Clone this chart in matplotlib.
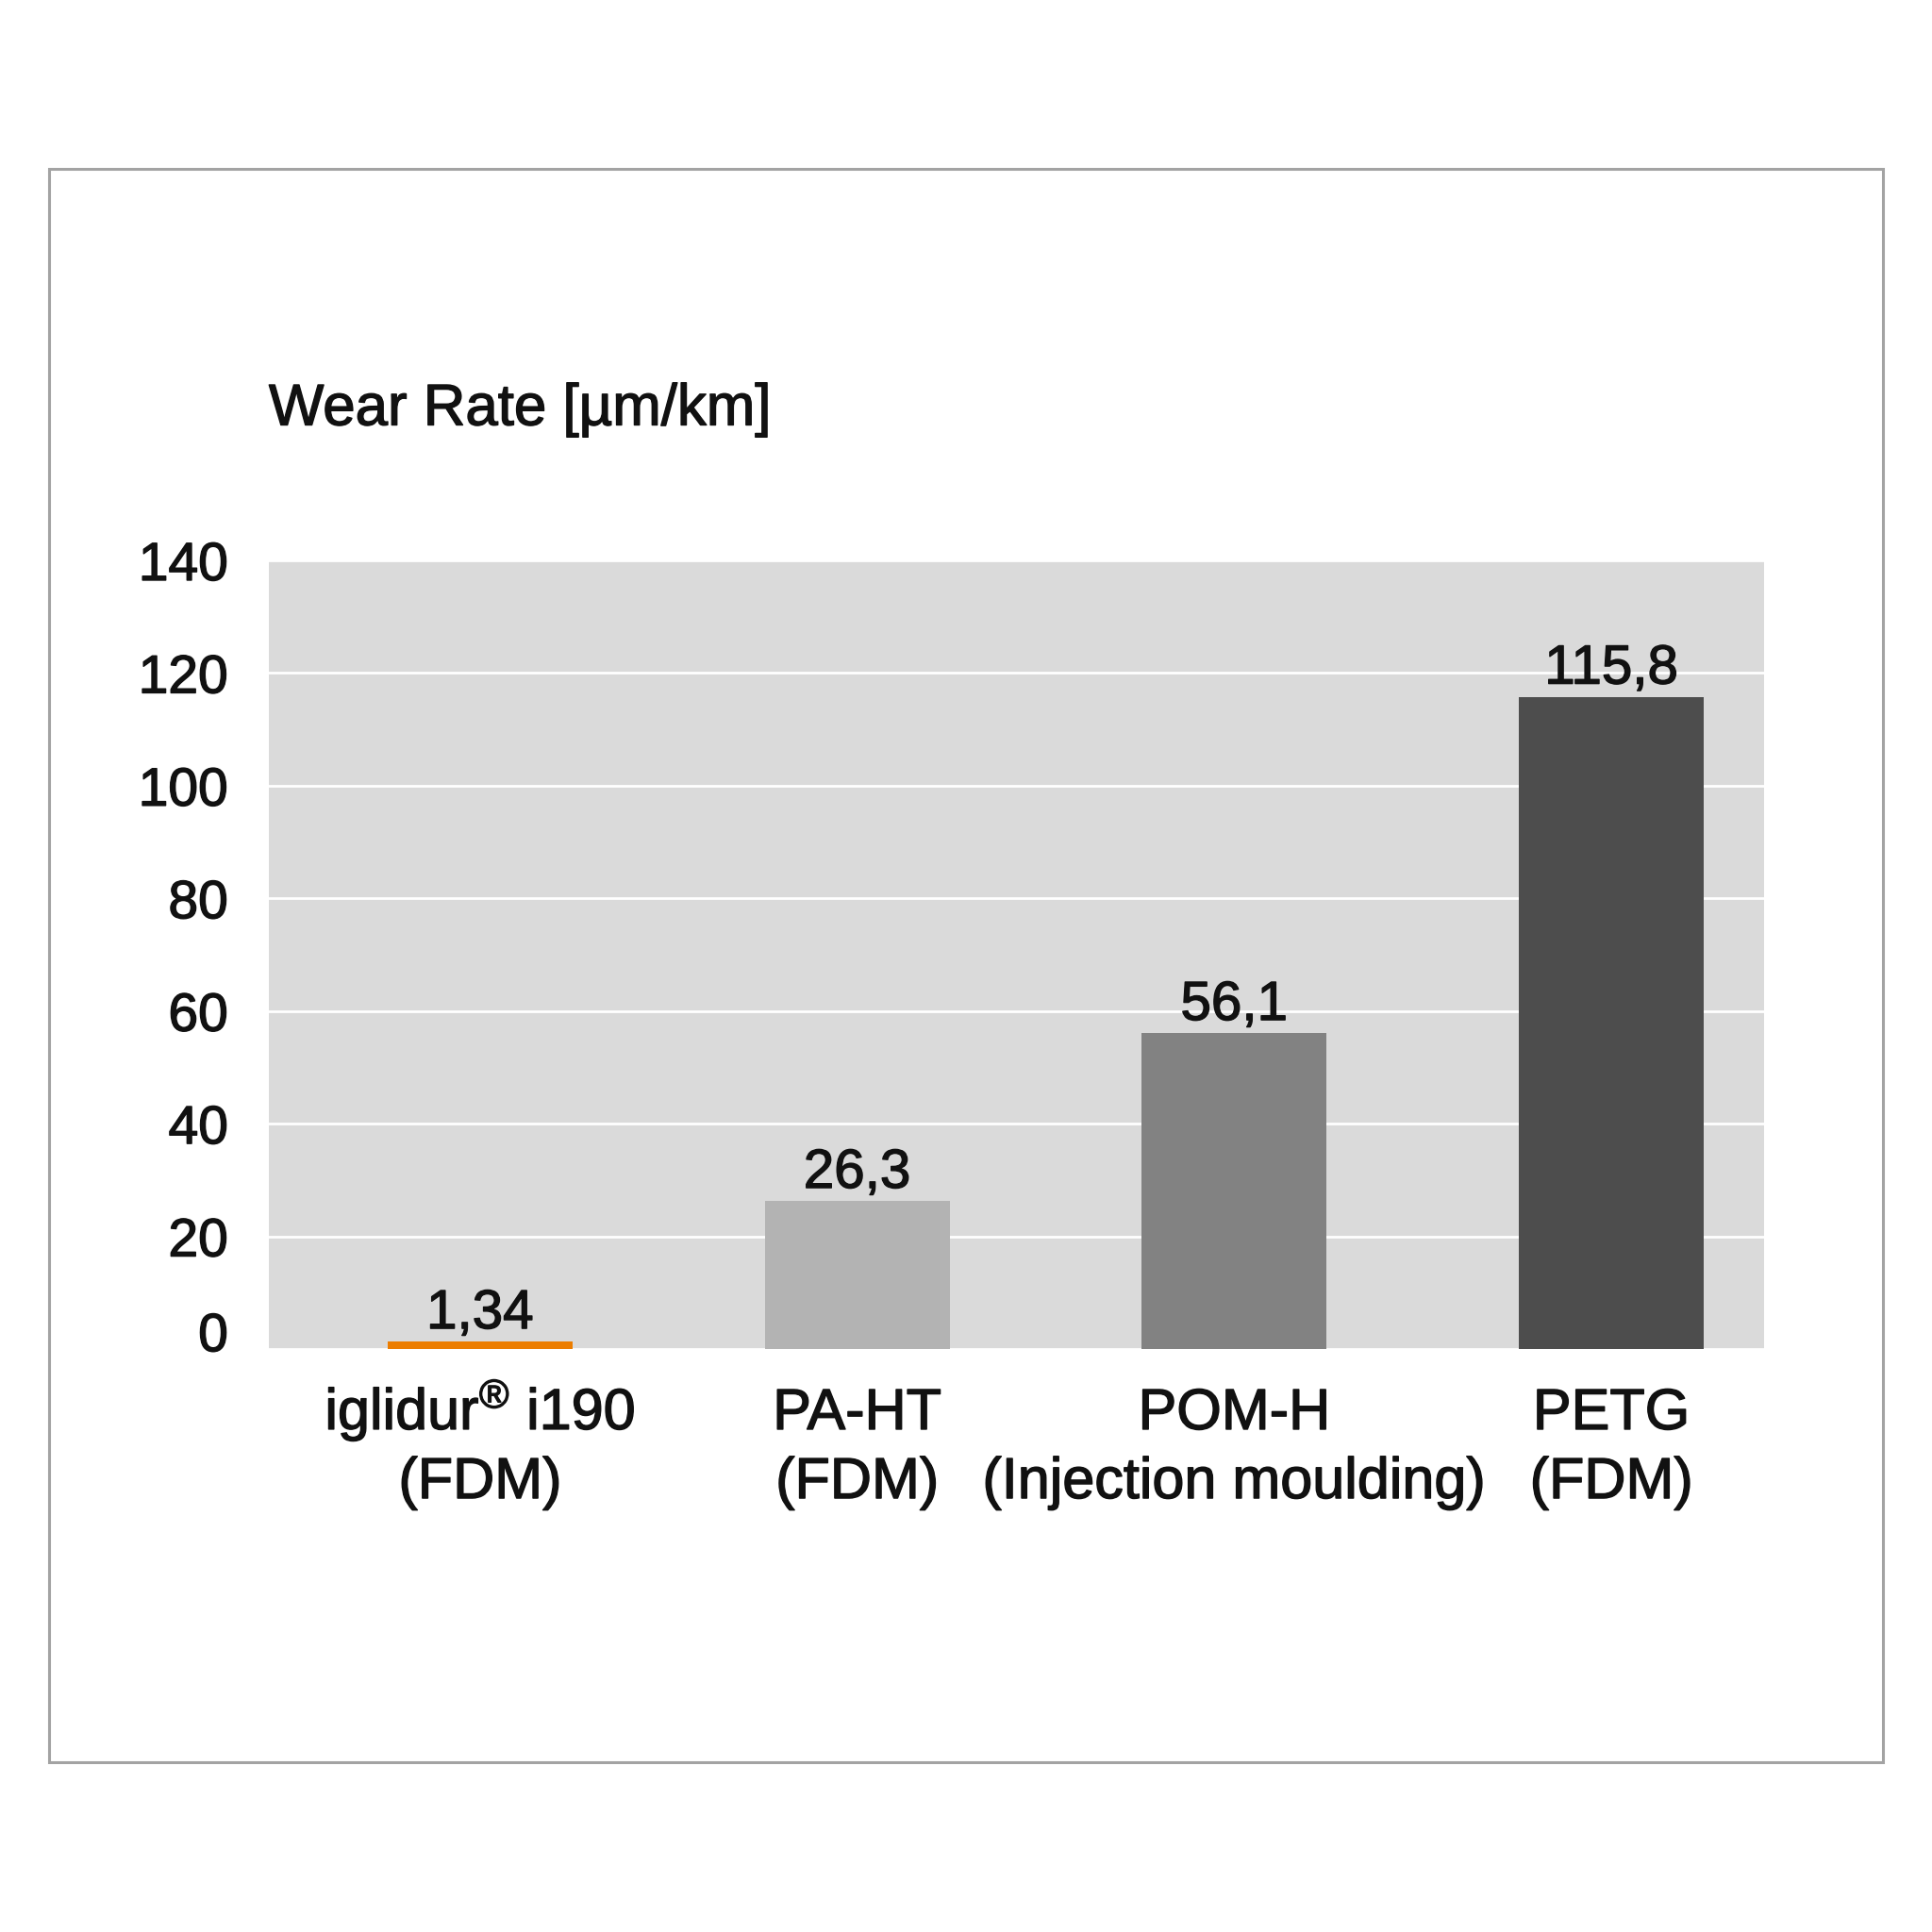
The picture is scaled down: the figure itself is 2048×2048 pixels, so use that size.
import matplotlib
matplotlib.use("Agg")
import matplotlib.pyplot as plt
import matplotlib.transforms as mtransforms
import matplotlib.patheffects as pe
from matplotlib.patches import Rectangle

plt.rcParams['font.family'] = ['Liberation Sans', 'DejaVu Sans']
plt.rcParams['mathtext.fontset'] = 'custom'
plt.rcParams['mathtext.rm'] = 'Liberation Sans'
plt.rcParams['mathtext.it'] = 'Liberation Sans'

# data
label_line1 = ['iglidur$^{\\mathrm{®}}$ i190', 'PA-HT', 'POM-H', 'PETG']
label_line2 = ['(FDM)', '(FDM)', '(Injection moulding)', '(FDM)']
wear_rate = [1.34, 26.3, 56.1, 115.8]
value_labels = ['1,34', '26,3', '56,1', '115,8']
bar_colors = ['#ec7d00', '#b3b3b3', '#828282', '#4d4d4d']
y_ticks = [0, 20, 40, 60, 80, 100, 120, 140]

TXT = '#111111'
bold = [pe.withStroke(linewidth=1.0, foreground=TXT)]

fig = plt.figure(figsize=(20.48, 20.48), dpi=100)
fig.patch.set_facecolor('white')

# outer frame
fig.patches.append(Rectangle((52 / 2048, 1 - 1868 / 2048), (1996 - 52) / 2048, (1868 - 179) / 2048,
                             transform=fig.transFigure, fill=False, edgecolor='#a3a3a3', linewidth=2.2))

ax = fig.add_axes([285 / 2048, 1 - 1430 / 2048, (1870 - 285) / 2048, (1430 - 594) / 2048])
ax.set_facecolor('#dadada')
x = list(range(len(wear_rate)))
ax.bar(x, wear_rate, width=0.49, color=bar_colors, zorder=3)

for xi, v, lab in zip(x, wear_rate, value_labels):
    ax.annotate(lab, (xi, v), xytext=(0, 10), textcoords='offset points',
                ha='center', va='baseline', fontsize=42, color=TXT, zorder=4,
                path_effects=bold)

# category labels, two lines each
for xi, l1, l2 in zip(x, label_line1, label_line2):
    ax.annotate(l1, (xi, 0), xycoords=ax.get_xaxis_transform(), xytext=(0, -61.2),
                textcoords='offset points', ha='center', va='baseline',
                fontsize=44, color=TXT, path_effects=bold, annotation_clip=False)
    ax.annotate(l2, (xi, 0), xycoords=ax.get_xaxis_transform(), xytext=(0, -113.8),
                textcoords='offset points', ha='center', va='baseline',
                fontsize=44, color=TXT, path_effects=bold, annotation_clip=False)

ax.set_xlim(-0.56, 3.405)
ax.set_ylim(0, 140)
ax.set_yticks(y_ticks)
ax.set_yticklabels([str(t) for t in y_ticks])
ax.set_xticks([])
ax.grid(axis='y', color='white', linewidth=2.0, zorder=1)
ax.set_axisbelow(True)
for s in ax.spines.values():
    s.set_visible(False)
ax.tick_params(axis='y', length=0, pad=31, labelsize=41, labelcolor=TXT)
for t in ax.get_yticklabels():
    t.set_path_effects(bold)

# the zero label sits a bit higher in the original
zero_lab = ax.get_yticklabels()[0]
zero_lab.set_transform(zero_lab.get_transform() + mtransforms.ScaledTranslation(0, 13.5 / 72, fig.dpi_scale_trans))

fig.text(285 / 2048, 1 - 435 / 2048, 'Wear Rate [µm/km]', ha='left', va='center',
         fontsize=44.5, color=TXT, path_effects=bold)

plt.savefig('out.png', dpi=100)
